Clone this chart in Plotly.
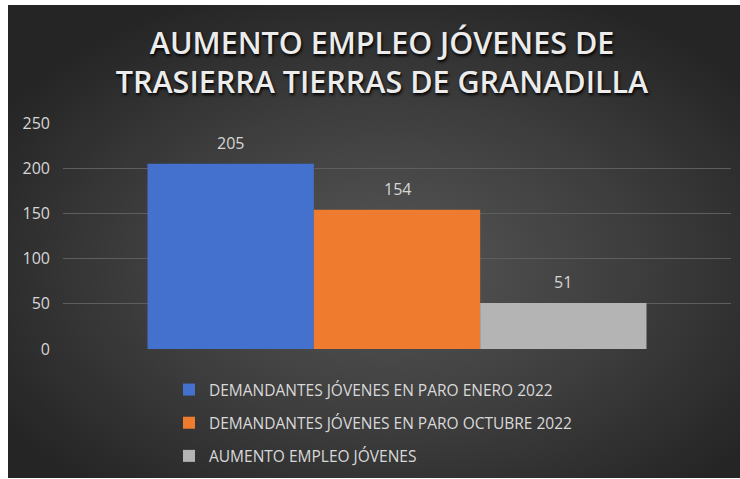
import plotly.graph_objects as go
import urllib.parse

categories = ["Trasierra Tierras de Granadilla"]
series_names = [
    "DEMANDANTES JÓVENES EN PARO ENERO 2022",
    "DEMANDANTES JÓVENES EN PARO OCTUBRE 2022",
    "AUMENTO EMPLEO JÓVENES",
]
series_values = [[205], [154], [51]]
series_colors = ["#4471cd", "#ee7b2e", "#b4b4b4"]
y_ticks = [0, 50, 100, 150, 200, 250]
title_text = "AUMENTO EMPLEO JÓVENES DE<br>TRASIERRA TIERRAS DE GRANADILLA"

W, H = 740, 479
L, R, T, B = 63, 9, 123, 130
pw, ph = W - L - R, H - T - B
BARGAP = 0.253
# dark chart panel inside a thin white frame
PX0, PX1, PY0, PY1 = 8, 740, 5, 478

svg = (
    "<svg xmlns='http://www.w3.org/2000/svg' width='732' height='473' viewBox='0 0 732 473' preserveAspectRatio='none'>"
    "<defs><radialGradient id='g' cx='0.52' cy='0.55' r='0.62'>"
    "<stop offset='0' stop-color='#565656'/><stop offset='0.55' stop-color='#3d3d3d'/>"
    "<stop offset='1' stop-color='#252525'/></radialGradient></defs>"
    "<rect width='732' height='473' fill='url(#g)'/></svg>"
)
src = "data:image/svg+xml;charset=utf-8," + urllib.parse.quote(svg)

fig = go.Figure()
n = len(series_names)
bar_px = pw * (1 - BARGAP) / n
label_font = dict(family="Open Sans", size=16, color="#d6d6d6")
for i, (name, vals, col) in enumerate(zip(series_names, series_values, series_colors)):
    fig.add_trace(go.Bar(
        x=categories, y=vals, name=name, legendgroup=name,
        marker=dict(color=col, line=dict(width=0)),
    ))
    for c, v in zip(categories, vals):
        fig.add_annotation(
            x=c, y=v, xref="x", yref="y", text=str(v), showarrow=False,
            xshift=(i - (n - 1) / 2) * bar_px, yshift=21, font=label_font,
        )

fig.add_layout_image(dict(
    source=src, xref="paper", yref="paper",
    x=(PX0 - L) / pw, y=(H - B - PY0) / ph,
    sizex=(PX1 - PX0) / pw, sizey=(PY1 - PY0) / ph,
    xanchor="left", yanchor="top", sizing="stretch", layer="below",
))

fig.update_layout(
    width=W, height=H,
    margin=dict(l=L, r=R, t=T, b=B, pad=0, autoexpand=False),
    paper_bgcolor="#ffffff", plot_bgcolor="rgba(0,0,0,0)",
    barmode="group", bargap=BARGAP, bargroupgap=0,
    title=dict(
        text=title_text, x=382 / W, xanchor="center", xref="container",
        y=1 - 53.5 / H, yanchor="middle", yref="container",
        font=dict(family="Open Sans", size=30.5, color="#ececec", weight=600,
                  shadow="1px 2px 3px #000000"),
    ),
    xaxis=dict(showticklabels=False, showgrid=False, zeroline=False, showline=False),
    yaxis=dict(
        range=[0, 250], tickvals=y_ticks, showgrid=True, gridcolor="#5e5e5e", gridwidth=1,
        zeroline=False, showline=False, ticks="",
        tickfont=dict(family="Open Sans", size=16, color="#d6d6d6"), ticklabelstandoff=12,
    ),
    legend=dict(
        x=(169 - L) / pw, y=(H - B - 373) / ph, xanchor="left", yanchor="top",
        orientation="v", traceorder="grouped", tracegroupgap=10,
        font=dict(family="Open Sans", size=15.5, color="#d9d9d9"),
        bgcolor="rgba(0,0,0,0)", itemwidth=30,
    ),
    showlegend=True,
)

fig.write_html(
    "out.html",
    config={"displayModeBar": False},
    post_script="document.body.style.margin='0';document.body.style.overflow='hidden';",
)
